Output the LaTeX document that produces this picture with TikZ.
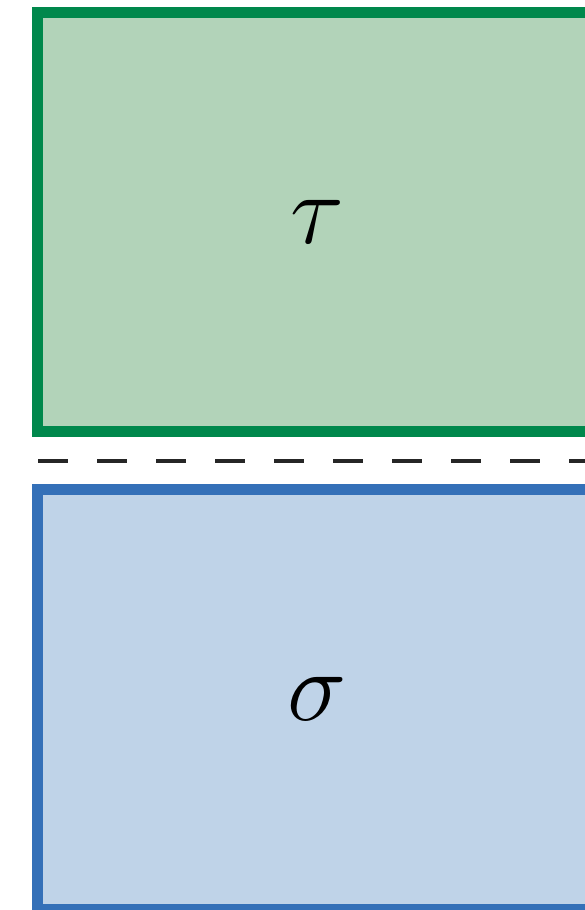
\RequirePackage{fix-cm}
\documentclass[tikz,border=0pt]{standalone}
\usepackage{amsmath, amssymb}
\usetikzlibrary{positioning}

\definecolor{tauline}{RGB}{0,136,76}
\definecolor{taufill}{RGB}{178,211,185}
\definecolor{sigline}{RGB}{52,112,184}
\definecolor{sigfill}{RGB}{191,211,232}

\begin{document}
\begin{tikzpicture}[x=1pt, y=-1pt, line join=miter,
    region/.style={rectangle, inner sep=0pt, line width=11pt,
      minimum width=559pt, font=\fontsize{100}{100}\selectfont},
    divider/.style={line width=4.5pt, black!85, dash pattern=on 30pt off 29pt}]
    \useasboundingbox (0,0) rectangle (585,910);
    \node[region, draw=tauline, fill=taufill, minimum height=419pt] (tau) at (317,221.5) {$\tau$};
    \node[region, draw=sigline, fill=sigfill, minimum height=420pt] (sigma) at (317,699) {$\sigma$};
    \coordinate (cutL) at (38,461);
    \coordinate (cutR) at (620,461);
    \draw[divider] (cutL) -- (cutR);
  \end{tikzpicture}
\end{document}
